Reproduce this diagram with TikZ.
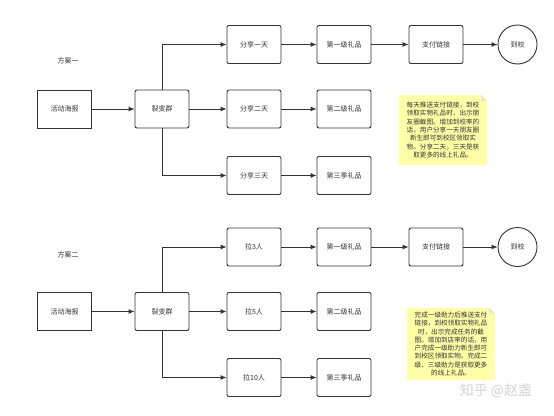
\documentclass[tikz,border=0pt]{standalone}
\usepackage{fontspec}
\newfontfamily\cjk{Noto Sans CJK SC}
\usetikzlibrary{arrows.meta,positioning}
\definecolor{ln}{HTML}{333333}
\definecolor{notey}{HTML}{FFFFA8}
\definecolor{wm}{HTML}{D4D4D4}
\tikzset{
  box/.style={draw=ln,line width=0.9pt,rounded corners=2pt,minimum width=54pt,minimum height=38pt,inner sep=0pt,font=\cjk\fontsize{7}{8}\selectfont,text=ln},
  sharpbox/.style={box,rounded corners=0pt},
  endc/.style={draw=ln,line width=0.9pt,circle,minimum size=39pt,inner sep=0pt,font=\cjk\fontsize{7}{8}\selectfont,text=ln},
  conn/.style={draw=ln,line width=0.9pt,-{Latex[length=6pt,width=5pt]}},
  lbl/.style={font=\cjk\fontsize{7}{8}\selectfont,text=ln},
  notetxt/.style={font=\cjk\fontsize{6.6}{8.3}\selectfont,text=ln,align=center,inner sep=0pt},
}
\begin{document}
\begin{tikzpicture}[x=1pt,y=-1pt]
\useasboundingbox[fill=white] (0,0) rectangle (554,415);
% ---------- scheme one ----------
\node[lbl] (t1) at (68,61) {方案一};
\node[sharpbox] (p1) at (64.5,109) {活动海报};
\node[box] (g1) at (162,109) {裂变群};
\node[box] (a1) at (254,44.5) {分享一天};
\node[box] (a2) at (254,109) {分享二天};
\node[box] (a3) at (254,175.5) {分享三天};
\node[box] (b1) at (344,44.5) {第一级礼品};
\node[box] (b2) at (344,109) {第二级礼品};
\node[box] (b3) at (344,175.5) {第三季礼品};
\node[box] (c1) at (436,44.5) {支付链接};
\node[endc] (d1) at (517.5,44.5) {到校};
\draw[conn] (p1) -- (g1);
\draw[conn] (g1) -- (a2);
\draw[conn] (g1.north) |- (a1.west);
\draw[conn] (g1.south) |- (a3.west);
\draw[conn] (a1) -- (b1);
\draw[conn] (a2) -- (b2);
\draw[conn] (a3) -- (b3);
\draw[conn] (b1) -- (c1);
\draw[conn] (c1) -- (d1);
% note one
\coordinate (n1) at (399,95);
\fill[notey] (399,95) -- (481,95) -- (487,101) -- (487,165) -- (399,165) -- cycle;
\fill[notey!70!gray!60] (481,95) -- (481,101) -- (487,101) -- cycle;
\node[notetxt] (nt1) at (443,130) {每天推送支付链接，到校\\领取实物礼品时，出示朋\\友圈截图。增加到校率的\\话，用户分享一天朋友圈\\新生即可到校区领取实\\物。分享二天，三天是获\\取更多的线上礼品。};
% ---------- scheme two ----------
\node[lbl] (t2) at (68,255) {方案二};
\node[sharpbox] (p2) at (64.5,311.5) {活动海报};
\node[box] (g2) at (162,311.5) {裂变群};
\node[box] (e1) at (254,247) {拉3人};
\node[box] (e2) at (254,311.5) {拉5人};
\node[box] (e3) at (254,377.5) {拉10人};
\node[box] (f1) at (344,247) {第一级礼品};
\node[box] (f2) at (344,311.5) {第二级礼品};
\node[box] (f3) at (344,377.5) {第三季礼品};
\node[box] (h1) at (436,247) {支付链接};
\node[endc] (k1) at (517.5,247) {到校};
\draw[conn] (p2) -- (g2);
\draw[conn] (g2) -- (e2);
\draw[conn] (g2.north) |- (e1.west);
\draw[conn] (g2.south) |- (e3.west);
\draw[conn] (e1) -- (f1);
\draw[conn] (e2) -- (f2);
\draw[conn] (e3) -- (f3);
\draw[conn] (f1) -- (h1);
\draw[conn] (h1) -- (k1);
% note two
\fill[notey] (407,308) -- (489,308) -- (495,314) -- (495,380) -- (407,380) -- cycle;
\fill[notey!70!gray!60] (489,308) -- (489,314) -- (495,314) -- cycle;
\node[notetxt] (nt2) at (451,344) {完成一级助力后推送支付\\链接，到校领取实物礼品\\时，出示完成任务的截\\图。增加到店率的话，用\\户完成一级助力新生即可\\到校区领取实物。完成二\\级、三级助力是获取更多\\的线上礼品。};
% watermark
\node[font=\cjk\fontsize{14}{16}\selectfont,text=wm,inner sep=0pt] (wm) at (496,391) {知乎 @赵盏};
\end{tikzpicture}
\end{document}
